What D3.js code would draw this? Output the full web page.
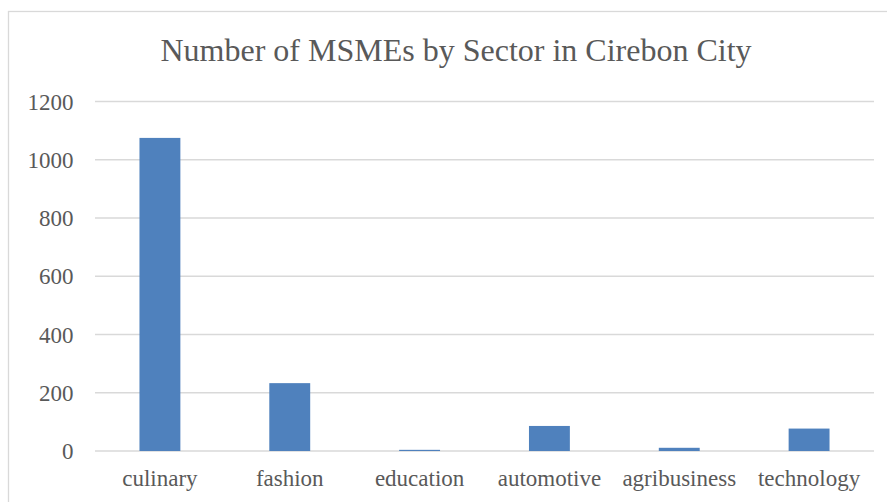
<!DOCTYPE html>
<html>
<head>
<meta charset="utf-8">
<script src="https://cdn.jsdelivr.net/npm/d3@7/dist/d3.min.js"></script>
<style>
html,body{margin:0;padding:0;background:#fff;}
svg{display:block;}
svg text{font-family:"Liberation Serif","Times New Roman",Times,"DejaVu Serif",serif;}
</style>
</head>
<body>
<svg id="chart" width="887" height="502"></svg>
<script>
const categories = ["culinary","fashion","education","automotive","agribusiness","technology"];
const values = [1075, 233, 4, 86, 11, 77];
const yTicks = [0, 200, 400, 600, 800, 1000, 1200];
const title = "Number of MSMEs by Sector in Cirebon City";

const svg = d3.select("#chart");
const textColor = "#595959";
const gridColor = "#d9d9d9";

svg.append("rect")
  .attr("x", 8.5).attr("y", 11.5)
  .attr("width", 900).attr("height", 520)
  .attr("fill", "none").attr("stroke", gridColor).attr("stroke-width", 1.3);

const x = d3.scaleBand().domain(categories).range([95, 874])
  .paddingInner(0.685).paddingOuter(0.3425);
const y = d3.scaleLinear().domain([0, 1200]).range([451, 101.5]);

svg.append("g").selectAll("line").data(yTicks).join("line")
  .attr("x1", 95).attr("x2", 874)
  .attr("y1", d => y(d)).attr("y2", d => y(d))
  .attr("stroke", gridColor).attr("stroke-width", 1.3);

svg.append("g").selectAll("text").data(yTicks).join("text")
  .attr("x", 73.5).attr("y", d => y(d) + 8)
  .attr("text-anchor", "end")
  .attr("font-size", 23)
  .attr("fill", textColor)
  .text(d => d);

svg.append("g").selectAll("rect").data(values).join("rect")
  .attr("x", (d, i) => x(categories[i]))
  .attr("width", x.bandwidth())
  .attr("y", d => y(d))
  .attr("height", d => y(0) - y(d))
  .attr("fill", "#4f81bd");

svg.append("g").selectAll("text").data(categories).join("text")
  .attr("x", d => x(d) + x.bandwidth() / 2)
  .attr("y", 486)
  .attr("text-anchor", "middle")
  .attr("font-size", 23)
  .attr("fill", textColor)
  .text(d => d);

svg.append("text")
  .attr("x", 456).attr("y", 61)
  .attr("text-anchor", "middle")
  .attr("font-size", 32)
  .attr("fill", textColor)
  .text(title);
</script>
</body>
</html>
